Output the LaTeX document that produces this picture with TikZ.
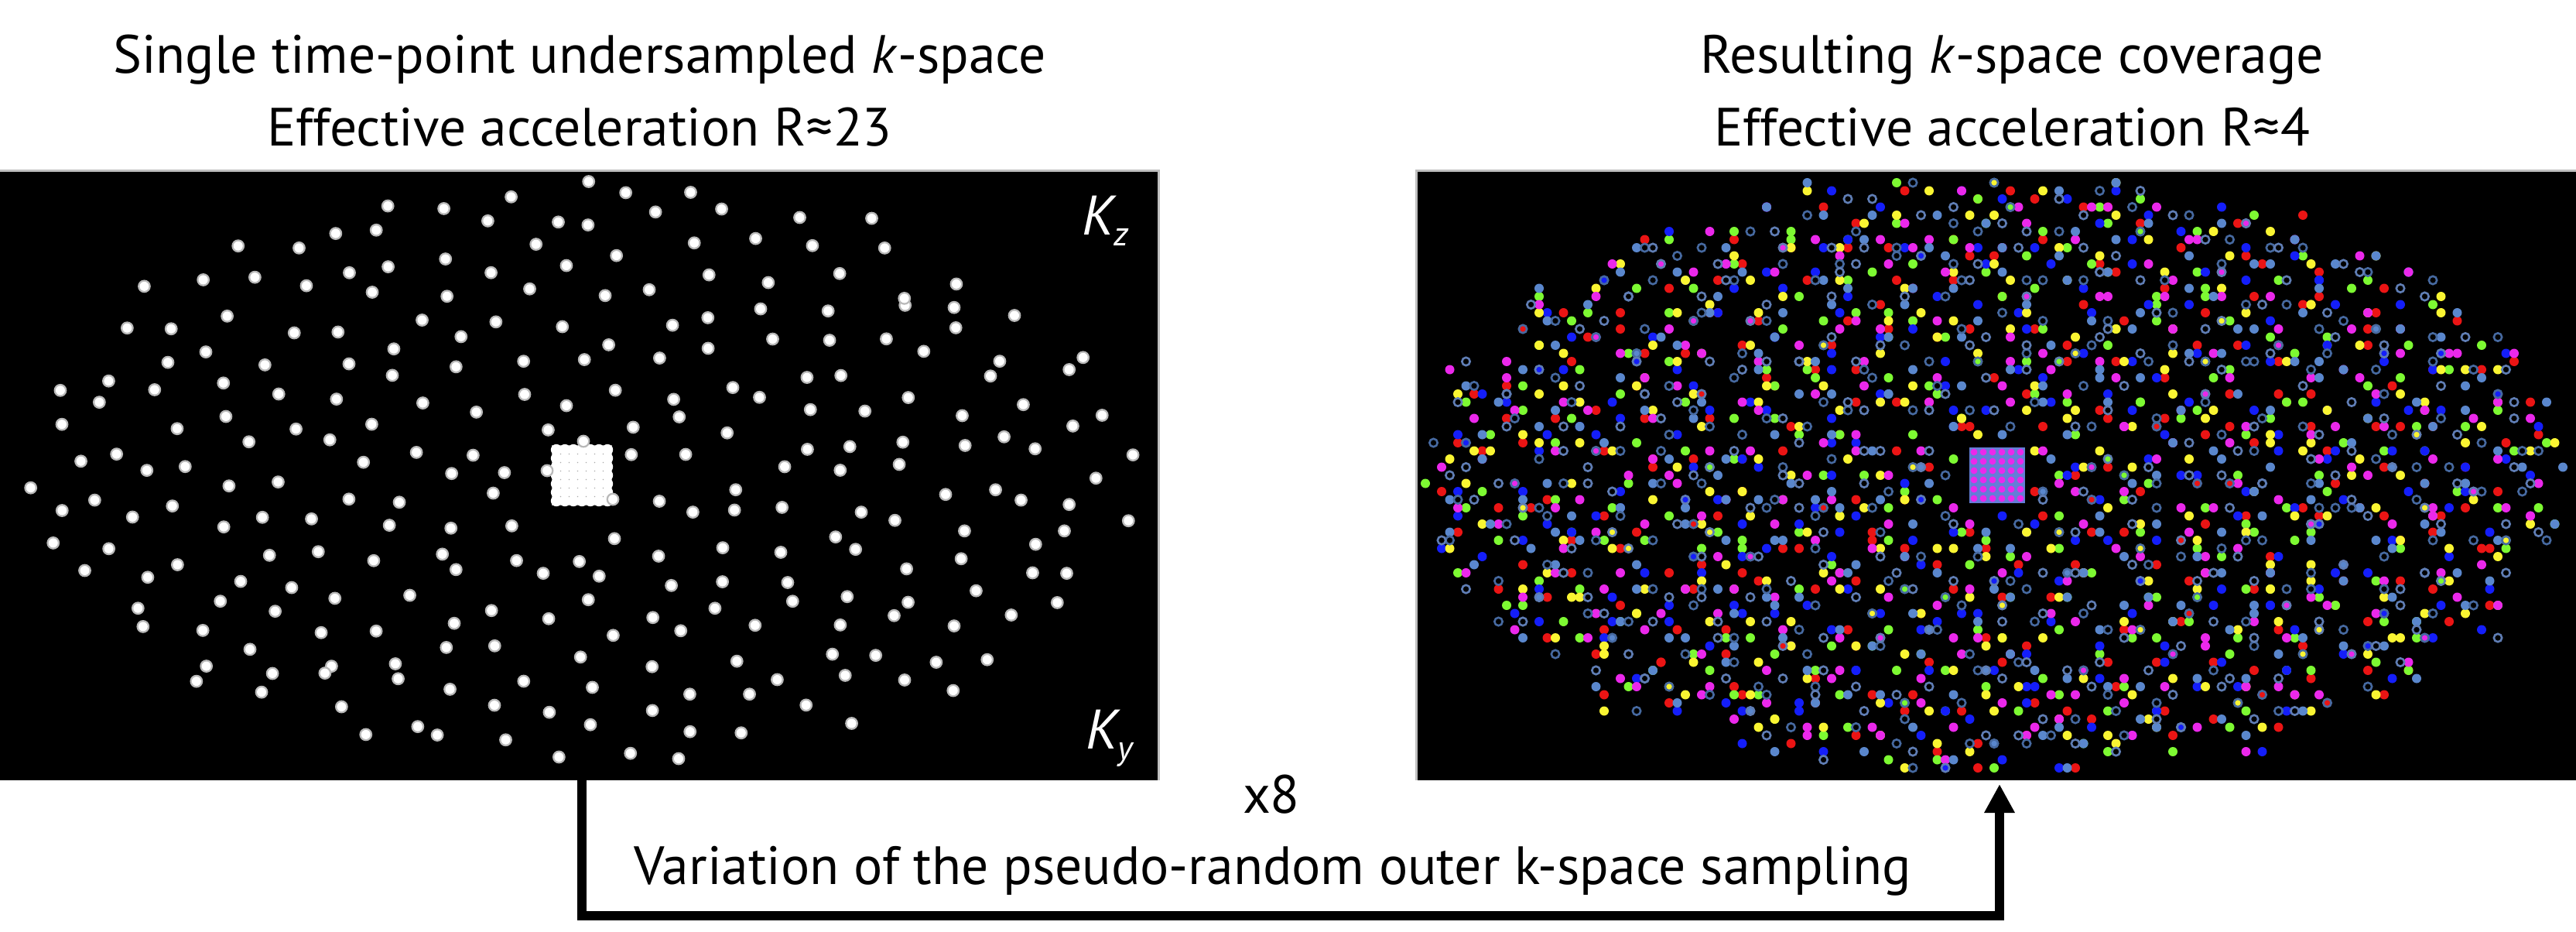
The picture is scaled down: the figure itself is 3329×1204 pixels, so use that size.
\documentclass[tikz,border=0pt]{standalone}
\usepackage{fontspec}
\setmainfont{PT Sans}
\usetikzlibrary{arrows.meta}
\definecolor{dred}{RGB}{235,20,20}
\definecolor{dgreen}{RGB}{125,250,50}
\definecolor{dblue}{RGB}{20,30,250}
\definecolor{dyellow}{RGB}{250,245,50}
\definecolor{dmag}{RGB}{235,40,235}
\definecolor{dsteel}{RGB}{90,135,205}
\definecolor{dring}{RGB}{70,105,160}
\definecolor{dring2}{RGB}{95,125,180}
\definecolor{sqblue}{RGB}{100,125,215}
\tikzset{
 panel/.style={fill=black, inner sep=0pt, outer sep=0pt, anchor=north west},
 title/.style={font=\fontsize{34.8}{40}\selectfont, anchor=base, inner sep=0pt},
 axislbl/.style={font=\fontsize{36}{40}\selectfont\itshape, text=white, anchor=base west, inner sep=0pt},
 looparrow/.style={line width=6pt, line join=miter, -{Triangle[length=18.5pt,width=18.5pt]}},
}
\begin{document}
\begin{tikzpicture}[x=0.5pt,y=-0.5pt]
\useasboundingbox (0,0) rectangle (3329,1204);
\node[panel, minimum width=748.5pt, minimum height=394pt] (left) at (0,220) {};
\node[panel, minimum width=749.5pt, minimum height=394pt] (right) at (1830,220) {};
\draw[gray!50, line width=1.5pt] (0,220) -- (1497,220) -- (1497,1008);
\draw[gray!50, line width=1.5pt] (1830,1008) -- (1830,220) -- (3329,220);

% left panel: single time point sampling
\pgfmathsetseed{31}
\foreach \i in {1,...,270} {
  \pgfmathsetmacro\rr{sqrt((\i-0.3)/270)}
  \pgfmathsetmacro\gg{\i*0.381966}
  \pgfmathsetmacro\tt{360*(\gg-floor(\gg))}
  \pgfmathsetmacro\dx{min(max(725*\rr*cos(\tt)+16*rand,-735),735)}
  \pgfmathsetmacro\dy{min(max(380*\rr*sin(\tt)+16*rand,-385),385)}
  \pgfmathtruncatemacro\skp{(abs(\dx)<60)&&(abs(\dy)<55)}
  \ifnum\skp=0
    \fill[gray!55] (748+\dx,612+\dy) circle[radius=4.2pt];
    \fill[white] (748+\dx,612+\dy) circle[radius=3pt];
  \fi
}
\fill[gray!70] (713,575) rectangle (791,653);
\foreach \a in {0,...,6} {
  \foreach \b in {0,...,6} {
    \fill[white] (719+11*\a,581+11*\b) circle[radius=3.6pt];
  }
}
\foreach \p in {(754,570),(707,608),(792,645)} {
  \fill[gray!55] \p circle[radius=4.2pt];
  \fill[white] \p circle[radius=3pt];
}

% right panel: combined coverage
\pgfmathsetseed{7}
\foreach \f/\col/\ring in {0/dred/0,1/dgreen/0,2/dblue/0,3/dyellow/0,4/dmag/0,5/dsteel/0,6/dring/1,7/dring2/1} {
  \foreach \i in {2,...,270} {
    \pgfmathsetmacro\rr{sqrt((\i+\f/8)/271)}
    \pgfmathsetmacro\gg{(\i+\f/8)*0.381966}
    \pgfmathsetmacro\tt{360*(\gg-floor(\gg))}
    \pgfmathsetmacro\dx{min(max(730*\rr*cos(\tt)+26*rand,-735),735)}
    \pgfmathsetmacro\dy{min(max(378*\rr*sin(\tt)+26*rand,-380),380)}
    \pgfmathsetmacro\qx{round(\dx/10.5)*10.5}
    \pgfmathsetmacro\qy{round(\dy/10.5)*10.5}
    \pgfmathtruncatemacro\skp{(abs(\qx)<45)&&(abs(\qy)<45)}
    \ifnum\skp=0
      \ifnum\ring=1
        \draw[\col, line width=1.3pt] (2577+\qx,614+\qy) circle[radius=2.6pt];
      \else
        \fill[\col] (2577+\qx,614+\qy) circle[radius=3pt];
      \fi
    \fi
  }
}
\fill[sqblue] (2545,578) rectangle (2617,650);
\foreach \a in {0,...,5} {
  \foreach \b in {0,...,5} {
    \fill[dmag] (2551+12*\a,584+12*\b) circle[radius=2.2pt];
  }
}

% labels
\node[title] (t1) at (749,95) {Single time-point undersampled \textit{k}-space};
\node[title] (t2) at (749,188) {Effective acceleration R≈23};
\node[title] (t3) at (2600,95) {Resulting \textit{k}-space coverage};
\node[title] (t4) at (2600,188) {Effective acceleration R≈4};
\node[axislbl] (kz) at (1398,303) {K\raisebox{-7pt}{\fontsize{22}{24}\selectfont z}};
\node[axislbl] (ky) at (1403,967) {K\raisebox{-7pt}{\fontsize{22}{24}\selectfont y}};
\node[title] (x8) at (1643,1050) {x8};
\node[title] (var) at (1645,1142) {Variation of the pseudo-random outer k-space sampling};

% loop arrow
\coordinate (s) at (752,1008);
\coordinate (e) at (2584,1013);
\draw[looparrow] (s) -- ++(0,175) -| (e);
\end{tikzpicture}
\end{document}
